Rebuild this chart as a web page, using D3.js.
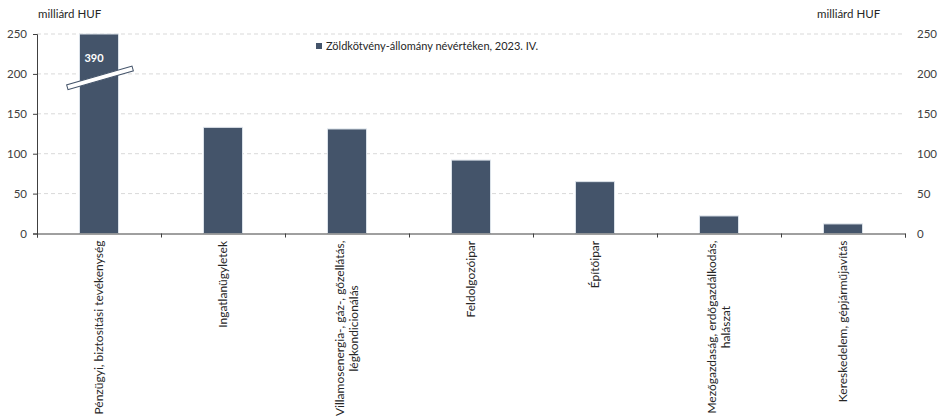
<!DOCTYPE html>
<html>
<head>
<meta charset="utf-8">
<script src="https://d3js.org/d3.v7.min.js"></script>
<style>
  body { margin: 0; padding: 0; background: #ffffff; }
  text { font-family: Lato, 'Open Sans', sans-serif; fill: #262626; }
  .tick text { font-size: 11.5px; fill: #404040; }
  .grid line { stroke: #d9d9d9; stroke-dasharray: 4,3; }
  .bar { fill: #44546a; stroke: #dde3ea; stroke-width: 1; }
  .xlab { font-size: 12px; }
  .unit { font-size: 11.5px; }
  .legend text { font-size: 11px; }
</style>
</head>
<body>
<div id="chart"></div>
<script>

// categories (label lines, as wrapped in the original)
var categories = [
  ["Pénzügyi, biztosítási tevékenység"],
  ["Ingatlanügyletek"],
  ["Villamosenergia-, gáz-, gőzellátás,", "légkondicionálás"],
  ["Feldolgozóipar"],
  ["Építőipar"],
  ["Mezőgazdaság, erdőgazdálkodás,", "halászat"],
  ["Kereskedelem, gépjárműjavítás"]
]

// Zöldkötvény-állomány névértéken, 2023. IV. (milliárd HUF)
var values = [390, 133, 131, 92, 65, 22, 12]

var yTicks = [0, 50, 100, 150, 200, 250]
var seriesName = "Zöldkötvény-állomány névértéken, 2023. IV."
var unitLabel = "milliárd HUF"
var title = "Zöldkötvény-állomány kibocsátók szerint, pénzügyi (2023)"

var width = 941,
    height = 417,
    margin = {top: 34, right: 36, bottom: 183.5, left: 37}

var yMax = 250

var svg = d3.select("#chart")
  .append("svg")
  .attr("width", width)
  .attr("height", height)
  .style("display", "block")

var x = d3.scaleBand()
  .domain(d3.range(categories.length))
  .range([margin.left, width - margin.right])
  .paddingInner(0.685)
  .paddingOuter(0.3425)

// boundaries between categories, for the bottom ticks
var xEdge = d3.scaleLinear()
  .domain([0, categories.length])
  .range([margin.left, width - margin.right])

var y = d3.scaleLinear()
  .domain([0, yMax])
  .range([height - margin.bottom, margin.top])

// title of the page above, only its lowest part is in the picture
svg.append("text")
  .attr("x", 421)
  .attr("y", -9)
  .attr("text-anchor", "end")
  .style("font-family", "'Liberation Serif', serif")
  .style("font-size", "42px")
  .style("fill", "#000")
  .text(title)

// dashed gridlines
svg.append("g")
  .attr("class", "grid")
  .selectAll("line")
  .data(yTicks.filter(function (d) { return d > 0 }))
  .enter().append("line")
  .attr("x1", margin.left)
  .attr("x2", width - margin.right)
  .attr("y1", function (d) { return y(d) })
  .attr("y2", function (d) { return y(d) })

// bars, the first one is cut at the top of the scale
svg.append("g")
  .selectAll("rect")
  .data(values)
  .enter().append("rect")
  .attr("class", "bar")
  .attr("x", function (d, i) { return x(i) })
  .attr("width", x.bandwidth())
  .attr("y", function (d) { return y(Math.min(d, yMax)) })
  .attr("height", function (d) { return y(0) - y(Math.min(d, yMax)) })

// break mark + real value on the cut bar
var cx = x(0) + x.bandwidth() / 2
svg.append("rect")
  .attr("x", -34)
  .attr("y", -2.5)
  .attr("width", 68)
  .attr("height", 5)
  .attr("transform", "translate(" + (cx + 1) + "," + y(195) + ") rotate(-16)")
  .style("fill", "#fff")
  .style("stroke", "#44546a")
  .style("stroke-width", 1)

svg.append("text")
  .attr("x", cx - 5)
  .attr("y", y(215))
  .attr("text-anchor", "middle")
  .style("font-size", "11px")
  .style("font-weight", "bold")
  .style("fill", "#ffffff")
  .text(values[0])

// left axis
var yAxisL = svg.append("g")
  .attr("transform", "translate(" + margin.left + ",0)")
  .call(d3.axisLeft(y).tickValues(yTicks).tickSize(4).tickPadding(6))
yAxisL.select(".domain").attr("stroke", "#404040")
yAxisL.selectAll(".tick line").attr("stroke", "#404040")

// right axis (labels only)
var yAxisR = svg.append("g")
  .attr("transform", "translate(" + (width - margin.right) + ",0)")
  .call(d3.axisRight(y).tickValues(yTicks).tickSize(0).tickPadding(12))
yAxisR.select(".domain").remove()

// bottom axis with ticks between categories
var xAxis = svg.append("g")
  .attr("transform", "translate(0," + y(0) + ")")
  .call(d3.axisBottom(xEdge).ticks(categories.length).tickSize(4).tickFormat(""))
xAxis.select(".domain").attr("stroke", "#404040")
xAxis.selectAll(".tick line").attr("stroke", "#404040")

// rotated category labels
var lineH = 14
var labels = svg.append("g")
  .selectAll("text")
  .data(categories)
  .enter().append("text")
  .attr("class", "xlab")
  .attr("text-anchor", "middle")
  .attr("transform", function (d, i) {
    return "translate(" + (x(i) + x.bandwidth() / 2) + "," + (y(0) + 7) + ") rotate(-90)"
  })

labels.selectAll("tspan")
  .data(function (d) { return d })
  .enter().append("tspan")
  .attr("x", 0)
  .attr("y", function (d, j, nodes) { return (j - (nodes.length - 1) / 2) * lineH + 4 })
  .text(function (d) { return d })

// shift each label so its longest line ends just under the axis
labels.each(function () {
  var bb = this.getBBox()
  var t = d3.select(this).attr("transform")
  d3.select(this).attr("transform", t + " translate(" + (-bb.width / 2) + ",0)")
})

// unit labels
svg.append("text")
  .attr("class", "unit")
  .attr("x", margin.left + 1)
  .attr("y", 18)
  .text(unitLabel)

svg.append("text")
  .attr("class", "unit")
  .attr("x", width - margin.right - 88)
  .attr("y", 18)
  .text(unitLabel)

// legend
var legend = svg.append("g")
  .attr("class", "legend")
  .attr("transform", "translate(316,43)")

legend.append("rect")
  .attr("width", 6)
  .attr("height", 6)
  .style("fill", "#44546a")

legend.append("text")
  .attr("x", 10)
  .attr("y", 6.5)
  .text(seriesName)

</script>
</body>
</html>
